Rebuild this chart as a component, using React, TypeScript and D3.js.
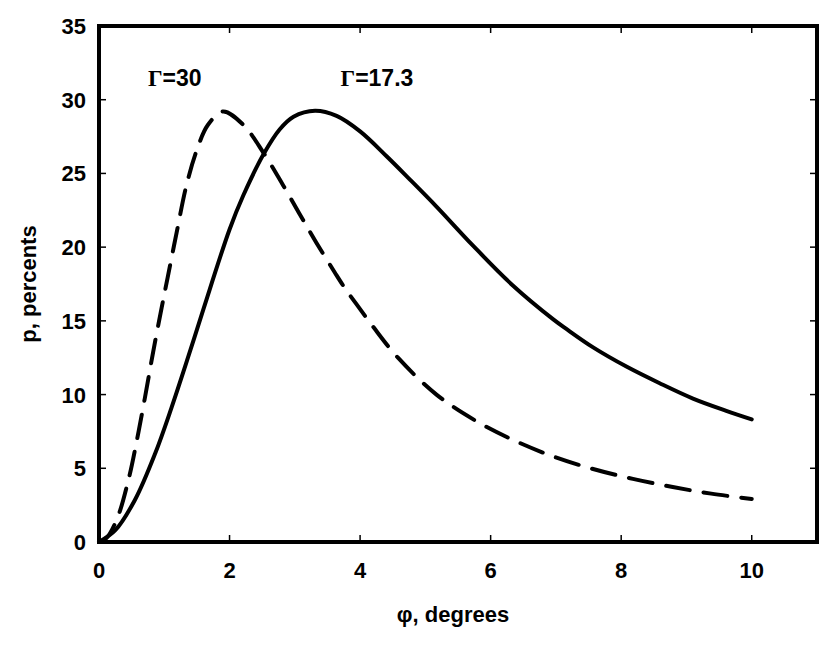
import * as d3 from "d3";
import { useEffect, useRef } from "react";

// Γ = 30 (dashed)
const phi30 = [0, 0.1, 0.27, 0.45, 0.58, 0.7, 0.83, 0.96, 1.05, 1.19, 1.34, 1.5, 1.67, 1.9, 2.21, 2.52, 2.82, 3.08, 3.33, 3.61, 3.77, 3.95, 4.2, 4.58, 5.17, 5.76, 6.34, 6.96, 7.57, 8.18, 8.79, 9.38, 10];
const p30 = [0, 0.2, 1.5, 4.2, 6.9, 9.7, 12.9, 15.9, 17.9, 21.0, 24.2, 26.6, 28.3, 29.2, 28.3, 26.4, 24.2, 22.2, 20.3, 18.3, 17.2, 16.1, 14.6, 12.5, 10.0, 8.25, 6.93, 5.8, 4.95, 4.28, 3.73, 3.28, 2.92];

// Γ = 17.3 (solid)
const phi17 = [0, 0.25, 0.55, 0.86, 1.11, 1.37, 1.6, 2.0, 2.21, 2.52, 2.77, 2.98, 3.31, 3.64, 4.0, 4.41, 4.76, 5.17, 5.73, 6.34, 6.96, 7.16, 7.57, 8.08, 8.59, 9.1, 9.61, 10];
const p17 = [0, 0.8, 2.85, 6.0, 9.1, 12.6, 15.8, 21.2, 23.5, 26.3, 28.0, 28.85, 29.25, 28.9, 27.85, 26.15, 24.6, 22.75, 20.1, 17.4, 15.1, 14.45, 13.2, 11.9, 10.77, 9.73, 8.9, 8.32];

const xTicks = [0, 2, 4, 6, 8, 10];
const yTicks = [0, 5, 10, 15, 20, 25, 30, 35];

const labels = [
  { g: "30", x: 0.75, y: 30.9 },
  { g: "17.3", x: 3.7, y: 30.9 },
];

export default function App() {
  const ref = useRef<SVGSVGElement>(null);

  useEffect(() => {
    const width = 830;
    const height = 658;
    const left = 99, right = 817, top = 26, bottom = 542;
    const sans = "'Liberation Sans', Arial, sans-serif";

    const svg = d3.select(ref.current);
    svg.selectAll("*").remove();
    svg.attr("width", width).attr("height", height);

    const x = d3.scaleLinear().domain([0, 11]).range([left, right]);
    const y = d3.scaleLinear().domain([0, 35]).range([bottom, top]);

    const line = d3.line<[number, number]>()
      .x(d => x(d[0]))
      .y(d => y(d[1]))
      .curve(d3.curveCatmullRom.alpha(0.5));

    /* ---- curves ---- */
    svg.append("path")
      .datum(phi17.map((v, i) => [v, p17[i]] as [number, number]))
      .attr("d", line)
      .attr("fill", "none")
      .attr("stroke", "#000")
      .attr("stroke-width", 4)
      .attr("stroke-linecap", "round");

    svg.append("path")
      .datum(phi30.map((v, i) => [v, p30[i]] as [number, number]))
      .attr("d", line)
      .attr("fill", "none")
      .attr("stroke", "#000")
      .attr("stroke-width", 4)
      .attr("stroke-linecap", "round")
      .attr("stroke-dasharray", "24,14");

    /* ---- ticks (inward, mirrored) ---- */
    const tl = 7;
    xTicks.forEach(t => {
      svg.append("line").attr("x1", x(t)).attr("x2", x(t)).attr("y1", bottom).attr("y2", bottom - tl)
        .attr("stroke", "#000").attr("stroke-width", 1.5);
      svg.append("line").attr("x1", x(t)).attr("x2", x(t)).attr("y1", top).attr("y2", top + tl)
        .attr("stroke", "#000").attr("stroke-width", 1.5);
      svg.append("text").attr("x", x(t)).attr("y", bottom + 36)
        .attr("text-anchor", "middle").attr("font-family", sans).attr("font-weight", "bold")
        .attr("font-size", 22).text(t);
    });
    yTicks.forEach(t => {
      svg.append("line").attr("x1", left).attr("x2", left + tl).attr("y1", y(t)).attr("y2", y(t))
        .attr("stroke", "#000").attr("stroke-width", 1.5);
      svg.append("line").attr("x1", right).attr("x2", right - tl).attr("y1", y(t)).attr("y2", y(t))
        .attr("stroke", "#000").attr("stroke-width", 1.5);
      svg.append("text").attr("x", left - 13).attr("y", y(t) + 8)
        .attr("text-anchor", "end").attr("font-family", sans).attr("font-weight", "bold")
        .attr("font-size", 22).text(t);
    });

    /* ---- frame ---- */
    svg.append("rect")
      .attr("x", left).attr("y", top)
      .attr("width", right - left).attr("height", bottom - top)
      .attr("fill", "none").attr("stroke", "#000").attr("stroke-width", 4);

    /* ---- axis titles ---- */
    svg.append("text").attr("x", (left + right) / 2 - 5).attr("y", 622)
      .attr("text-anchor", "middle").attr("font-family", sans).attr("font-weight", "bold")
      .attr("font-size", 22).text("φ, degrees");

    svg.append("text")
      .attr("transform", `translate(36, ${(top + bottom) / 2}) rotate(-90)`)
      .attr("text-anchor", "middle").attr("font-family", sans).attr("font-weight", "bold")
      .attr("font-size", 22).text("p, percents");

    /* ---- curve labels ---- */
    labels.forEach(l => {
      const t = svg.append("text").attr("x", x(l.x)).attr("y", y(l.y))
        .attr("font-size", 23).attr("font-weight", "bold").attr("font-family", sans);
      t.append("tspan").attr("font-family", "'Liberation Serif', serif").text("Γ");
      t.append("tspan").text("=" + l.g);
    });
  }, []);

  return (
    <div style={{ position: "absolute", left: 0, top: 0 }}>
      <svg ref={ref} style={{ display: "block", background: "#fff" }} />
    </div>
  );
}
